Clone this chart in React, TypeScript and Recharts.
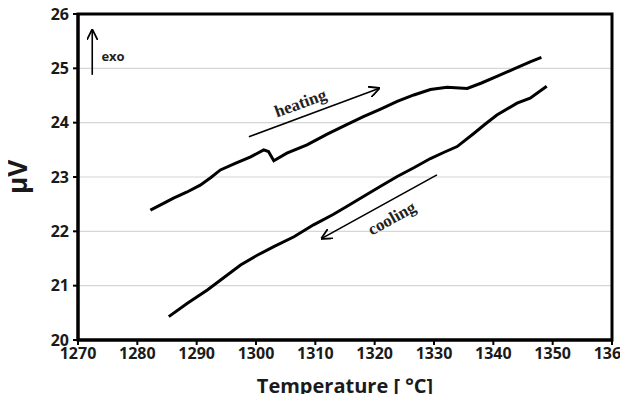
import {
  LineChart,
  Line,
  XAxis,
  YAxis,
  CartesianGrid,
  ReferenceArea,
  ReferenceLine,
  ReferenceDot,
} from 'recharts';

// heating curve (temperature °C, signal µV)
const heatingT = [1282.2, 1284.0, 1286.1, 1288.3, 1290.6, 1292.4, 1294.0, 1296.5, 1299.1, 1301.3, 1302.1, 1303.0, 1305.2, 1308.6, 1312.0, 1315.2, 1318.1, 1321.0, 1323.8, 1326.6, 1329.4, 1332.2, 1335.6, 1338.0, 1340.6, 1343.5, 1346.2, 1348.1];
const heatingV = [22.39, 22.49, 22.61, 22.72, 22.85, 22.99, 23.13, 23.25, 23.37, 23.50, 23.47, 23.30, 23.44, 23.59, 23.79, 23.96, 24.11, 24.25, 24.39, 24.51, 24.61, 24.65, 24.63, 24.73, 24.85, 24.99, 25.12, 25.20];

// cooling curve
const coolingT = [1285.3, 1288.5, 1291.8, 1294.6, 1297.4, 1300.2, 1303.0, 1306.4, 1309.7, 1313.0, 1315.5, 1318.1, 1321.0, 1323.8, 1326.6, 1329.4, 1331.8, 1333.9, 1336.7, 1338.6, 1340.6, 1344.0, 1346.2, 1349.0];
const coolingV = [20.43, 20.68, 20.92, 21.15, 21.38, 21.56, 21.72, 21.90, 22.12, 22.31, 22.47, 22.64, 22.83, 23.01, 23.17, 23.34, 23.46, 23.56, 23.80, 23.97, 24.14, 24.36, 24.45, 24.67];

const xTicks = [1270, 1280, 1290, 1300, 1310, 1320, 1330, 1340, 1350, 1360];
const yTicks = [20, 21, 22, 23, 24, 25, 26];

const heating = heatingT.map((t, i) => ({ t, v: heatingV[i] }));
const cooling = coolingT.map((t, i) => ({ t, v: coolingV[i] }));

const tickFont = { fill: '#1a1a1a', fontSize: 16, fontWeight: 700, fontFamily: '"Open Sans", sans-serif' };

const arrowShape = (p: any) => (
  <line x1={p.x1} y1={p.y1} x2={p.x2} y2={p.y2} stroke="#000" strokeWidth={1.6} markerEnd="url(#arrowHead)" />
);

const rotatedText = (label: string, angle: number) => (p: any) => (
  <text
    x={p.cx}
    y={p.cy}
    textAnchor="middle"
    dominantBaseline="central"
    transform={`rotate(${angle} ${p.cx} ${p.cy})`}
    fontFamily='"Liberation Serif", serif'
    fontWeight={700}
    fontSize={17}
    fill="#222"
  >
    {label}
  </text>
);

export default function App() {
  return (
    <div style={{ width: 628, height: 402, margin: -8, background: '#fff' }}>
      <LineChart width={628} height={402} margin={{ top: 14, right: 16, left: 0, bottom: 0 }}>
        <defs>
          <marker id="arrowHead" viewBox="0 0 10 10" refX="9" refY="5" markerWidth="7" markerHeight="7" orient="auto">
            <path d="M0,0 L10,5 L0,10" fill="none" stroke="#000" strokeWidth={1.6} />
          </marker>
        </defs>
        <CartesianGrid vertical={false} stroke="#d6d6d6" strokeWidth={1.2} />
        <XAxis
          type="number"
          dataKey="t"
          domain={[1270, 1360]}
          ticks={xTicks}
          height={62}
          tick={tickFont}
          tickSize={5}
          tickMargin={3}
          axisLine={{ stroke: '#000', strokeWidth: 3 }}
          tickLine={{ stroke: '#000', strokeWidth: 2 }}
          label={{ value: 'Temperature [ °C]', position: 'insideBottom', offset: 9, style: { fill: '#1a1a1a', fontSize: 20, fontWeight: 700, fontFamily: '"Open Sans", sans-serif' } }}
        />
        <YAxis
          type="number"
          dataKey="v"
          domain={[20, 26]}
          ticks={yTicks}
          width={78}
          tick={tickFont}
          tickSize={5}
          tickMargin={4}
          axisLine={{ stroke: '#000', strokeWidth: 3 }}
          tickLine={{ stroke: '#000', strokeWidth: 2 }}
          label={{ value: 'µV', angle: -90, position: 'insideLeft', offset: 18, style: { fill: '#1a1a1a', fontSize: 26, fontWeight: 700, fontFamily: '"Open Sans", sans-serif', textAnchor: 'middle' } }}
        />
        <ReferenceArea x1={1270} x2={1360} y1={20} y2={26} fill="none" stroke="#000" strokeWidth={3} ifOverflow="visible" />
        <Line data={heating} dataKey="v" type="linear" stroke="#000" strokeWidth={3} dot={false} isAnimationActive={false} />
        <Line data={cooling} dataKey="v" type="linear" stroke="#000" strokeWidth={3} dot={false} isAnimationActive={false} />
        <ReferenceLine segment={[{ x: 1272.4, y: 24.88 }, { x: 1272.4, y: 25.7 }]} shape={arrowShape} ifOverflow="visible" />
        <ReferenceLine segment={[{ x: 1298.8, y: 23.74 }, { x: 1320.7, y: 24.63 }]} shape={arrowShape} ifOverflow="visible" />
        <ReferenceLine segment={[{ x: 1330.5, y: 23.04 }, { x: 1311.1, y: 21.87 }]} shape={arrowShape} ifOverflow="visible" />
        <ReferenceDot
          x={1275.9}
          y={25.23}
          shape={(p: any) => (
            <text x={p.cx} y={p.cy} textAnchor="middle" dominantBaseline="central" fontFamily="Open Sans, sans-serif" fontWeight={700} fontSize={13} fill="#222">
              exo
            </text>
          )}
        />
        <ReferenceDot x={1307.5} y={24.36} shape={rotatedText('heating', -20)} />
        <ReferenceDot x={1322.9} y={22.24} shape={rotatedText('cooling', -29)} />
      </LineChart>
    </div>
  );
}
